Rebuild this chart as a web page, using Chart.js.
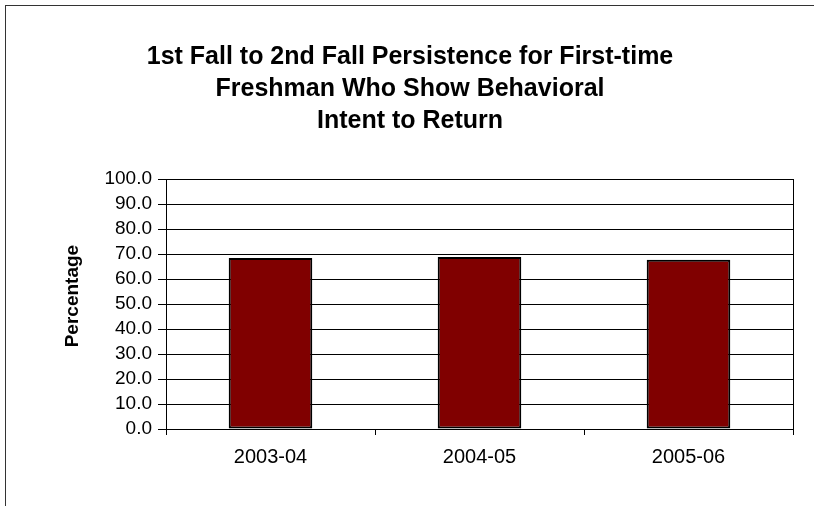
<!DOCTYPE html>
<html>
<head>
<meta charset="utf-8">
<script src="https://cdn.jsdelivr.net/npm/chart.js@4"></script>
<style>
  html, body { margin: 0; padding: 0; background: #fff; }
  #wrap { position: relative; width: 814px; height: 506px; overflow: hidden; }
  #frame { position: absolute; left: 5px; top: 5px; width: 820px; height: 520px;
           border-top: 1px solid #333; border-left: 1px solid #333; pointer-events: none; }
  canvas { display: block; }
</style>
</head>
<body>
<div id="wrap">
  <canvas id="c" width="814" height="506"></canvas>
  <div id="frame"></div>
</div>
<script>
const categories = ["2003-04", "2004-05", "2005-06"];
const persistence = [68.4, 68.8, 67.7];
const titleLines = ["1st Fall to 2nd Fall Persistence for First-time", "Freshman Who Show Behavioral", "Intent to Return"];
const yAxisTitle = "Percentage";

const FONT = "Arial, 'Liberation Sans', Helvetica, sans-serif";

new Chart(document.getElementById('c'), {
  type: 'bar',
  data: {
    labels: categories,
    datasets: [{
      data: persistence,
      backgroundColor: '#800000',
      borderColor: '#000',
      borderWidth: 2,
      borderSkipped: false,
      categoryPercentage: 1.0,
      barPercentage: 0.4
    }]
  },
  options: {
    responsive: false,
    animation: false,
    devicePixelRatio: 1,
    layout: { padding: { top: 0, left: 6, right: 0, bottom: 0 } },
    plugins: {
      legend: { display: false },
      tooltip: { enabled: false },
      title: {
        display: true,
        text: titleLines,
        color: '#000',
        font: { family: FONT, size: 25, weight: 'bold', lineHeight: 1.28 },
        padding: { top: 41, bottom: 42 }
      }
    },
    scales: {
      x: {
        afterFit(s) { s.height = 77; },
        grid: { drawOnChartArea: false, drawTicks: true, tickLength: 6, color: '#000', offset: true },
        border: { color: '#000', width: 1 },
        ticks: { color: '#000', font: { family: FONT, size: 20 }, padding: 10 }
      },
      y: {
        min: 0, max: 100,
        afterFit(s) { s.width = 160; },
        grid: { color: '#000', lineWidth: 1, tickLength: 8, drawTicks: true },
        border: { color: '#000', width: 1 },
        ticks: {
          stepSize: 10,
          autoSkip: false,
          color: '#000',
          padding: 6,
          font: { family: FONT, size: 19 },
          callback: v => v.toFixed(1)
        },
        title: {
          display: true,
          text: '   ' + yAxisTitle,
          color: '#000',
          font: { family: FONT, size: 19, weight: 'bold' },
          padding: { top: 55, bottom: 0 }
        }
      },
      y2: {
        position: 'right',
        display: true,
        afterFit(s) { s.width = 21; },
        grid: { display: false },
        border: { display: true, color: '#000', width: 1 },
        ticks: { display: false }
      }
    }
  }
});
</script>
</body>
</html>
